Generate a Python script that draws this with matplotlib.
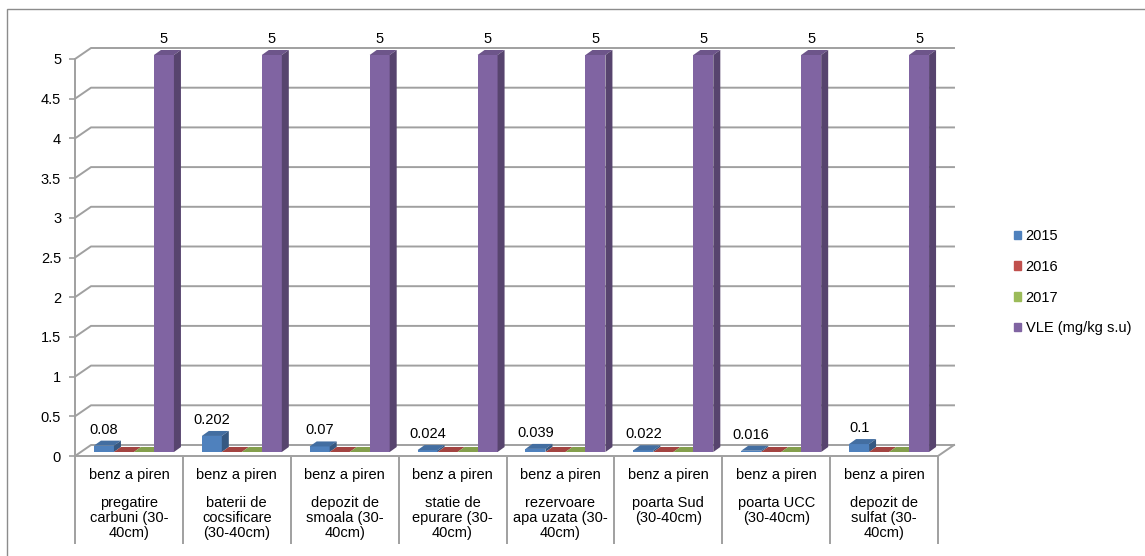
import matplotlib
matplotlib.use('Agg')
import matplotlib.pyplot as plt
from matplotlib.patches import Polygon, Patch, Rectangle
import numpy as np

plt.rcParams['font.family'] = ['Liberation Sans', 'DejaVu Sans']

# date
compound = 'benz a piren'
locations = ['pregatire\ncarbuni (30-\n40cm)', 'baterii de\ncocsificare\n(30-40cm)',
             'depozit de\nsmoala (30-\n40cm)', 'statie de\nepurare (30-\n40cm)',
             'rezervoare\napa uzata (30-\n40cm)', 'poarta Sud\n(30-40cm)',
             'poarta UCC\n(30-40cm)', 'depozit de\nsulfat (30-\n40cm)']
series_names = ['2015', '2016', '2017', 'VLE (mg/kg s.u)']
v2015 = [0.08, 0.202, 0.07, 0.024, 0.039, 0.022, 0.016, 0.1]
v2016 = [0, 0, 0, 0, 0, 0, 0, 0]
v2017 = [0, 0, 0, 0, 0, 0, 0, 0]
vle = [5, 5, 5, 5, 5, 5, 5, 5]
yticks = [0, 0.5, 1, 1.5, 2, 2.5, 3, 3.5, 4, 4.5, 5]
colors = ['#4F81BD', '#C0504D', '#9BBB59', '#8064A2']
series = [v2015, v2016, v2017, vle]
labeled = [True, False, False, True]

FS = 10.5
W, H = 1145, 556
fig = plt.figure(figsize=(W / 100, H / 100), dpi=100)

# zona de desen (fata din fata)
x0, x1 = 75, 938
y0, y1 = 456, 59
ax = fig.add_axes([x0 / W, 1 - y0 / H, (x1 - x0) / W, (y0 - y1) / H])
n = len(locations)
ax.set_xlim(-0.5, n - 0.5)
ax.set_ylim(0, 5)
sx = (x1 - x0) / n
sy = (y0 - y1) / 5


def px(dxp, dyp):
    return dxp / sx, dyp / sy


grid_c = '#a0a0a0'
wx, wy = px(16, 11)
for t in yticks:
    ax.plot([-0.5, -0.5 + wx, n - 0.5 + wx], [t, t + wy, t + wy],
            color=grid_c, lw=1.4, clip_on=False, zorder=1)
ax.plot([n - 0.5, n - 0.5 + wx], [0, wy], color=grid_c, lw=1.4, clip_on=False, zorder=1)

for s in ['top', 'right']:
    ax.spines[s].set_visible(False)
for s in ['left', 'bottom']:
    ax.spines[s].set_color(grid_c)
    ax.spines[s].set_linewidth(1.4)
    ax.spines[s].set_zorder(1.5)
ax.set_xticks([])
ax.set_yticks(yticks)
ax.set_yticklabels([f'{t:g}' for t in yticks])
ax.tick_params(axis='y', length=4, width=1.2, color=grid_c, pad=6, labelsize=FS)
ax.patch.set_alpha(0)


def shade(c, f):
    r, g, b = matplotlib.colors.to_rgb(c)
    return (r * f, g * f, b * f)


# coloane 3D
bw = 20 / sx
fx, fy = px(5, 4)
dx, dy = px(7, 5)
for i in range(n):
    for j, vals in enumerate(series):
        v = vals[i]
        xl = i - 2 * bw + j * bw + fx
        z = 2 + (i * 4 + j) * 0.01
        c = colors[j]
        ax.bar(xl, v, bw, bottom=fy, align='edge', color=c, zorder=z, clip_on=False, lw=0)
        top = [(xl, v + fy), (xl + bw, v + fy), (xl + bw + dx, v + fy + dy), (xl + dx, v + fy + dy)]
        side = [(xl + bw, fy), (xl + bw, v + fy), (xl + bw + dx, v + fy + dy), (xl + bw + dx, fy + dy)]
        ax.add_patch(Polygon(top, closed=True, color=shade(c, 0.85), zorder=z + 0.001, clip_on=False, lw=0))
        ax.add_patch(Polygon(side, closed=True, color=shade(c, 0.68), zorder=z + 0.002, clip_on=False, lw=0))
        if labeled[j]:
            ax.annotate(f'{v:g}', (xl + bw / 2, v + fy), xytext=(0, 9), textcoords='offset pixels',
                        ha='center', va='bottom', fontsize=FS, zorder=10, annotation_clip=False)

# etichete categorii
yl1 = -(475 - y0) / sy
yl2 = -(496 - y0) / sy
ysep = -(544 - y0) / sy
for i in range(n):
    ax.text(i, yl1, compound, ha='center', va='center', fontsize=FS)
    ax.text(i, yl2, locations[i], ha='center', va='top', fontsize=FS, linespacing=1.08)
ax.vlines(np.arange(-0.5, n, 1), ysep, 0, color=grid_c, lw=1.4, clip_on=False)

fig.legend(handles=[Patch(color=c, label=nm) for c, nm in zip(colors, series_names)],
           loc='upper left', bbox_to_anchor=(1014 / W, 1 - 229 / H), frameon=False,
           handlelength=0.5, handleheight=0.5, handletextpad=0.3, labelspacing=1.15,
           fontsize=FS, borderpad=0, borderaxespad=0)

fig.add_artist(Rectangle((7 / W, -0.1), 1.2, 1.1 - 9 / H, transform=fig.transFigure,
                         fill=False, edgecolor='#8c8c8c', lw=1))

fig.savefig('out.png', dpi=100, facecolor='white')
